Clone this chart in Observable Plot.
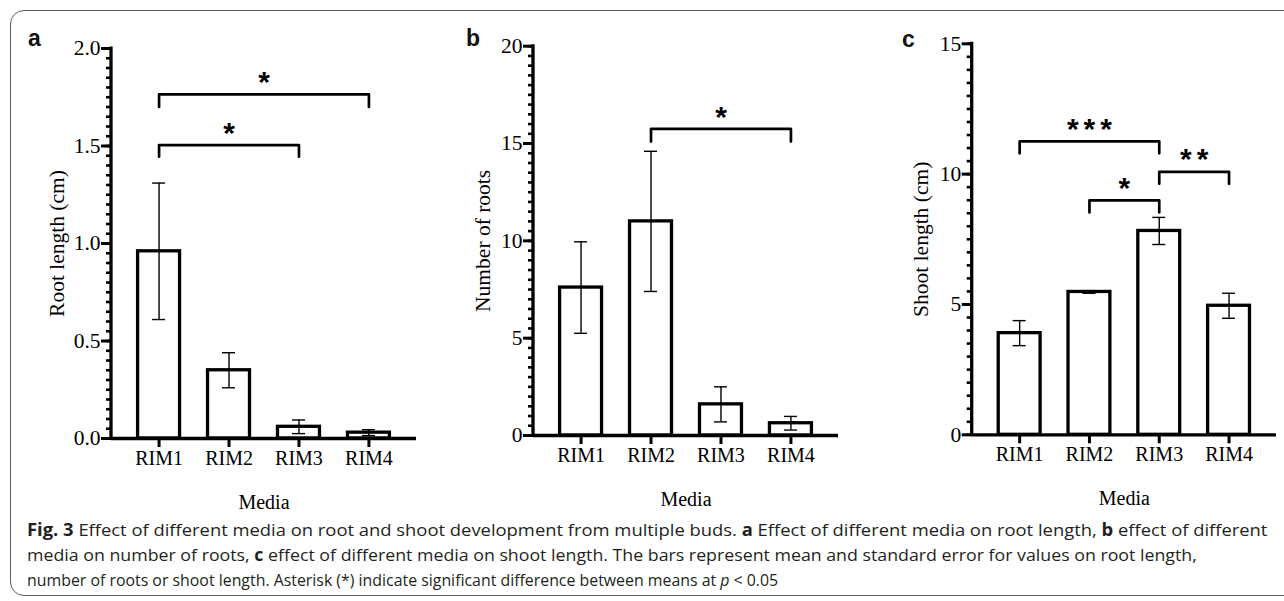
<!DOCTYPE html>
<html>
<head>
<meta charset="utf-8">
<script src="https://cdn.jsdelivr.net/npm/d3@7"></script>
<script src="https://cdn.jsdelivr.net/npm/@observablehq/plot@0.6"></script>
<style>
  body { margin: 0; background: #fff; }
  #wrap { position: relative; width: 1284px; height: 601px; overflow: hidden; background: #fff; }
  #frame { position: absolute; left: 10px; top: 10px; width: 1330px; height: 586px;
           border: 1.5px solid #5c5c5c; border-radius: 14px; box-sizing: border-box; }
  .panel { position: absolute; top: 0; }
  .letter { position: absolute; font-family: "Liberation Sans", Arial, sans-serif; font-weight: bold;
            font-size: 23px; line-height: 23px; color: #111; }
  #caption { position: absolute; left: 0; top: 0; }
  g[aria-label="text"] text { letter-spacing: 5px; }
</style>
</head>
<body>
<div id="wrap">
  <div id="frame"></div>
  <div id="pa" class="panel" style="left:0px"></div>
  <div id="pb" class="panel" style="left:420px"></div>
  <div id="pc" class="panel" style="left:850px"></div>
  <div class="letter" style="left:28px;top:27px">a</div>
  <div class="letter" style="left:466px;top:27px">b</div>
  <div class="letter" style="left:902px;top:28px">c</div>
  <svg id="caption" width="1284" height="601" style="font-family:'Open Sans',sans-serif;font-size:17px;fill:#231f20">
    <g class="capline" data-x="27" data-w="1241"><text x="0" y="536"><tspan font-weight="bold">Fig. 3</tspan>  Effect of different media on root and shoot development from multiple buds. <tspan font-weight="bold">a</tspan> Effect of different media on root length, <tspan font-weight="bold">b</tspan> effect of different</text></g>
    <g class="capline" data-x="27" data-w="1171"><text x="0" y="561">media on number of roots, <tspan font-weight="bold">c</tspan> effect of different media on shoot length. The bars represent mean and standard error for values on root length,</text></g>
    <g class="capline" data-x="27" data-w="752"><text x="0" y="586">number of roots or shoot length. Asterisk (*) indicate significant difference between means at <tspan font-style="italic">p</tspan> &lt; 0.05</text></g>
  </svg>
</div>
<script>
// ---------- data ----------
const media = ["RIM1", "RIM2", "RIM3", "RIM4"];

const rootLength   = [0.96, 0.35, 0.06, 0.03];
const rootLengthSE = [0.35, 0.09, 0.035, 0.015];

const rootNumber   = [7.6, 11.0, 1.6, 0.63];
const rootNumberSE = [2.35, 3.6, 0.9, 0.35];

const shootLength   = [3.9, 5.48, 7.82, 4.95];
const shootLengthSE = [0.48, 0.05, 0.52, 0.48];

const ticksA = [0, 0.5, 1.0, 1.5, 2.0];
const ticksB = [0, 5, 10, 15, 20];
const ticksC = [0, 5, 10, 15];

const sigA = [
  {from: "RIM1", to: "RIM4", y: 1.765, leg: 1.70, label: "*"},
  {from: "RIM1", to: "RIM3", y: 1.505, leg: 1.445, label: "*"}
];
const sigB = [
  {from: "RIM2", to: "RIM4", y: 15.75, leg: 15.1, label: "*"}
];
const sigC = [
  {from: "RIM1", to: "RIM3", y: 11.26, leg: 10.8, label: "***"},
  {from: "RIM2", to: "RIM3", y: 8.99, leg: 8.53, label: "*"},
  {from: "RIM3", to: "RIM4", y: 10.09, leg: 9.63, label: "**"}
];

// ---------- caption fitting (uniform horizontal condensing) ----------
document.querySelectorAll(".capline").forEach(g => {
  const t = g.querySelector("text");
  const natural = t.getBBox().width;
  const k = +g.dataset.w / natural;
  g.setAttribute("transform", `translate(${g.dataset.x},0) scale(${k},1)`);
});

// ---------- drawing ----------
const H = 520;
const PAD_IN = 0.4, PAD_OUT = 0.38;
const SERIF = "'Liberation Serif', 'Times New Roman', serif";

function panel(o) {
  const rows = media.map((m, i) => ({m, v: o.means[i], lo: o.means[i] - o.ses[i], hi: o.means[i] + o.ses[i]}));
  const xs = Plot.scale({x: {type: "band", domain: media, range: [o.ml, o.width - o.mr],
                             paddingInner: PAD_IN, paddingOuter: PAD_OUT, round: false}});
  const bw = xs.bandwidth;
  const capW = 13;
  const capInset = (bw - capW) / 2;
  const bracketPts = o.sig.flatMap((s, k) => [
    {m: s.from, v: s.leg, k}, {m: s.from, v: s.y, k},
    {m: s.to, v: s.y, k}, {m: s.to, v: s.leg, k}
  ]);
  const stars = o.sig.map(s => Plot.text([s], {
    x: "from", y: "y", text: "label",
    dx: (xs.apply(s.to) - xs.apply(s.from)) / 2 + 2.5, dy: -12,
    fontSize: 30, fontWeight: "bold", fontFamily: "Liberation Sans", lineAnchor: "middle", fill: "black"
  }));
  const yAxisLine = (index, scales, values, dims) => {
    const l = document.createElementNS("http://www.w3.org/2000/svg", "line");
    l.setAttribute("x1", dims.marginLeft); l.setAttribute("x2", dims.marginLeft);
    l.setAttribute("y1", scales.y(o.yDomain[1]) - 1.5); l.setAttribute("y2", scales.y(0) + 1.6);
    l.setAttribute("stroke", "black"); l.setAttribute("stroke-width", 3.3);
    return l;
  };
  const plot = Plot.plot({
    width: o.width, height: H,
    marginLeft: o.ml, marginRight: o.mr, marginTop: o.mt, marginBottom: H - o.y0,
    style: {fontFamily: SERIF, fontSize: "21px", color: "black", background: "transparent", overflow: "visible"},
    x: {type: "band", domain: media, paddingInner: PAD_IN, paddingOuter: PAD_OUT, round: false},
    y: {domain: [0, o.yDomain[1]]},
    marks: [
      Plot.barY(rows, {x: "m", y: "v", fill: "white", stroke: "black", strokeWidth: 3.3}),
      Plot.ruleX(rows, {x: "m", y1: "lo", y2: "hi", stroke: "black", strokeWidth: 1.4}),
      Plot.tickY(rows, {x: "m", y: "hi", stroke: "black", strokeWidth: 1.4, insetLeft: capInset, insetRight: capInset}),
      Plot.tickY(rows, {x: "m", y: "lo", stroke: "black", strokeWidth: 1.4, insetLeft: capInset, insetRight: capInset}),
      Plot.ruleY([0], {stroke: "black", strokeWidth: 3.3}),
      yAxisLine,
      Plot.axisY({ticks: o.minor, tickSize: 5, strokeWidth: 2.6, tickFormat: () => "", label: null}),
      Plot.axisY({ticks: o.major, tickSize: 10, tickPadding: 1, strokeWidth: 3, tickFormat: o.fmt,
                  fontSize: 21.5, fontFamily: SERIF,
                  label: o.ylabel, labelArrow: false, labelAnchor: "center", labelOffset: o.lo}),
      Plot.axisX({tickSize: 9, tickPadding: 3, strokeWidth: 3, fontSize: 20, fontFamily: SERIF,
                  label: "Media", labelArrow: false, labelAnchor: "center", labelOffset: 70}),
      Plot.lineY(bracketPts, {x: "m", y: "v", z: "k", stroke: "black", strokeWidth: 2.7}),
      ...stars
    ]
  });
  document.getElementById(o.el).appendChild(plot);
}

panel({el: "pa", width: 430, ml: 111, mr: 14, mt: 48, y0: 438, yDomain: [0, 2.0],
       major: ticksA, minor: 40, fmt: d3.format(".1f"), ylabel: "Root length (cm)", lo: 63,
       means: rootLength, ses: rootLengthSE, sig: sigA});
panel({el: "pb", width: 430, ml: 113, mr: 12, mt: 45.7, y0: 435, yDomain: [0, 20],
       major: ticksB, minor: 40, fmt: d3.format("d"), ylabel: "Number of roots", lo: 59,
       means: rootNumber, ses: rootNumberSE, sig: sigB});
panel({el: "pc", width: 434, ml: 121.7, mr: 8, mt: 43.3, y0: 434.3, yDomain: [0, 15],
       major: ticksC, minor: 30, fmt: d3.format("d"), ylabel: "Shoot length (cm)", lo: 59,
       means: shootLength, ses: shootLengthSE, sig: sigC});
</script>
</body>
</html>
